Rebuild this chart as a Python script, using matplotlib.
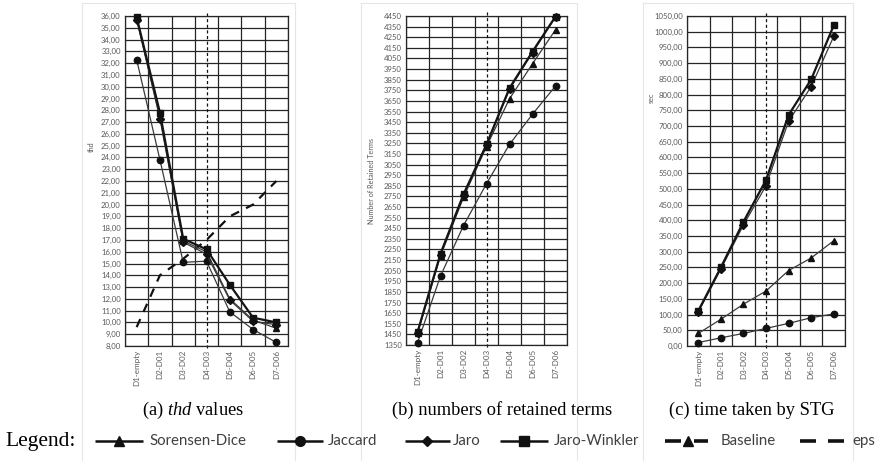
import matplotlib
matplotlib.use("Agg")
import matplotlib.pyplot as plt
from matplotlib.lines import Line2D
import numpy as np

# ---- data -------------------------------------------------------------
# All values are approximate readings (no exact source table).
categories = ["D1-empty", "D2-D01", "D3-D02", "D4-D03", "D5-D04", "D6-D05", "D7-D06"]

# (a) thd values
thd_sorensen = [35.8, 27.4, 16.9, 16.0, 12.0, 10.2, 9.5]
thd_jaccard = [32.3, 23.8, 15.1, 15.2, 10.9, 9.4, 8.3]
# Jaro markers are largely hidden under Jaro-Winkler / Sorensen-Dice in (a)
# and (b); these two Jaro series are rough guesses, not readings.
thd_jaro = [35.7, 27.3, 16.8, 15.8, 11.9, 10.1, 9.8]
thd_jarowinkler = [35.9, 27.8, 17.1, 16.2, 13.2, 10.4, 10.0]
thd_eps = [9.6, 14.0, 15.4, 17.0, 19.0, 20.0, 22.0]

# (b) numbers of retained terms
terms_sorensen = [1460, 2190, 2740, 3220, 3670, 4000, 4320]
terms_jaccard = [1370, 2000, 2475, 2870, 3240, 3525, 3790]
terms_jaro = [1465, 2200, 2760, 3235, 3760, 4105, 4440]
terms_jarowinkler = [1470, 2210, 2770, 3240, 3770, 4115, 4445]

# (c) time taken by STG (sec)
# The solid triangle line is taken to be Sorensen-Dice; it could instead be
# the Baseline series (dashed line with triangles in the legend).
time_sorensen = [40, 85, 133, 175, 240, 280, 335]
time_jaccard = [11, 26, 40, 56, 72, 90, 102]
time_jaro = [108, 245, 385, 510, 715, 825, 985]
time_jarowinkler = [112, 250, 395, 528, 735, 848, 1020]

# axis tick values
ticks_a = np.arange(8, 37, 1)
ticks_b = np.arange(1350, 4451, 100)
ticks_c = np.arange(0, 1051, 50)

# ---- style ------------------------------------------------------------
plt.rcParams["mathtext.fontset"] = "custom"
plt.rcParams["mathtext.rm"] = "Liberation Serif"
plt.rcParams["mathtext.it"] = "Liberation Serif:italic"

GRID = "#262626"
TXT = "#595959"
LINE = "#3a3a3a"
TICKFONT = "Lato"

fig = plt.figure(figsize=(8.82, 4.61), dpi=100)
W, H = 882, 461


def axes_px(x0, y0, x1, y1):
    return fig.add_axes([x0 / W, 1 - y1 / H, (x1 - x0) / W, (y1 - y0) / H])


def style_axes(ax, yticks, fmt, ylim):
    n = len(categories)
    ax.set_xlim(-0.5, n - 0.5)
    ax.set_ylim(*ylim)
    ax.set_xticks(range(n))
    ax.set_xticklabels(categories, rotation=90, fontsize=5.8, color=TXT,
                       family=TICKFONT, va="top")
    ax.set_xticks(np.arange(-0.5, n, 1.0), minor=True)
    ax.set_yticks(yticks)
    ax.set_yticklabels([fmt(v) for v in yticks], fontsize=5.6, color=TXT,
                       family=TICKFONT)
    ax.tick_params(axis="both", which="both", length=0, pad=3)
    ax.grid(True, axis="y", which="major", color=GRID, lw=0.9)
    ax.grid(True, axis="x", which="minor", color=GRID, lw=0.9)
    for s in ax.spines.values():
        s.set_color(GRID)
        s.set_linewidth(0.9)
    ax.set_axisbelow(True)
    # vertical dashed reference at D4-D03
    ax.axvline(3, ymin=-0.005, ymax=1.015, color="#111111", lw=0.9,
               ls=(0, (2.5, 2)), clip_on=False, zorder=2)


def draw_series(ax, sd, jac, jaro, jw):
    x = np.arange(len(categories))
    kw = dict(clip_on=False, zorder=4)
    ax.plot(x, sd, color=LINE, lw=0.9, marker="^", ms=4.6, mfc="#111",
            mec="#111", **kw)
    ax.plot(x, jac, color=LINE, lw=0.9, marker="o", ms=4.6, mfc="#111",
            mec="#111", **kw)
    ax.plot(x, jaro, color=LINE, lw=0.9, marker="D", ms=3.6, mfc="#111",
            mec="#111", **kw)
    ax.plot(x, jw, color="#151515", lw=1.6, marker="s", ms=5.0, mfc="#111",
            mec="#111", **kw)


fmt_comma = lambda v: f"{v:.2f}".replace(".", ",")
fmt_int = lambda v: f"{int(v)}"

# (a)
ax_a = axes_px(125, 16, 288, 346)
style_axes(ax_a, ticks_a, fmt_comma, (8, 36))
draw_series(ax_a, thd_sorensen, thd_jaccard, thd_jaro, thd_jarowinkler)
ax_a.plot(np.arange(len(categories)), thd_eps, color="#111111", lw=1.6,
          ls=(0, (4, 3.5)), zorder=3)
fig.text(91 / W, 1 - 147 / H, "thd", rotation=90, fontsize=5.2, color=TXT,
         family=TICKFONT, ha="center", va="center")

# (b)
ax_b = axes_px(406, 16, 567, 345)
style_axes(ax_b, ticks_b, fmt_int, (1350, 4450))
draw_series(ax_b, terms_sorensen, terms_jaccard, terms_jaro, terms_jarowinkler)
fig.text(372 / W, 1 - 181 / H, "Number of Retained Terms", rotation=90,
         fontsize=5.2, color=TXT, family=TICKFONT, ha="center", va="center")

# (c)
ax_c = axes_px(687, 16, 845, 346)
style_axes(ax_c, ticks_c, fmt_comma, (0, 1050))
draw_series(ax_c, time_sorensen, time_jaccard, time_jaro, time_jarowinkler)
fig.text(651 / W, 1 - 98 / H, "sec", rotation=90, fontsize=5.2, color=TXT,
         family=TICKFONT, ha="center", va="center")

# faint chart-area frames
for (l, r) in [(82, 295), (361, 577), (643, 853)]:
    for xx in (l, r):
        fig.add_artist(Line2D([xx / W, xx / W], [1 - 3 / H, 1 - 461 / H],
                              color="#e6e6e6", lw=0.8))
    fig.add_artist(Line2D([l / W, r / W], [1 - 3 / H, 1 - 3 / H],
                          color="#e6e6e6", lw=0.8))

# captions
SERIF = "Liberation Serif"
cy = 1 - 410 / H
fig.text(193 / W, cy, "(a) $\\it{thd}$ values", fontsize=13.3, family=SERIF,
         ha="center", va="center")
fig.text(502 / W, cy, "(b) numbers of retained terms", fontsize=13.3,
         family=SERIF, ha="center", va="center")
fig.text(752 / W, cy, "(c) time taken by STG", fontsize=13.3, family=SERIF,
         ha="center", va="center")

# legend row
ly = 1 - 441 / H
fig.text(5 / W, ly, "Legend:", fontsize=15.5, family=SERIF, ha="left",
         va="center")


def seg(x0, x1, lw=1.8):
    fig.add_artist(Line2D([x0 / W, x1 / W], [ly, ly], color="#111111", lw=lw,
                          solid_capstyle="butt"))


def mark(x, marker, ms):
    fig.add_artist(Line2D([x / W], [ly], marker=marker, ms=ms, color="#111111",
                          lw=0))


def label(x, s):
    fig.text(x / W, ly, s, fontsize=10.8, family="Lato", color="#404040",
             ha="left", va="center")


seg(95, 143); mark(119, "^", 7)
label(149, "Sorensen-Dice")
seg(277, 323); mark(300, "o", 7)
label(328, "Jaccard")
seg(405, 450); mark(427, "D", 5.5)
label(453, "Jaro")
seg(500, 548); mark(524, "s", 7)
label(554, "Jaro-Winkler")
seg(665, 681, lw=2.6); seg(694, 708, lw=2.6); mark(688, "^", 7)
label(721, "Baseline")
seg(800, 816, lw=2.6); seg(828, 844, lw=2.6)
label(852, "eps")

fig.savefig("out.png", dpi=100)
